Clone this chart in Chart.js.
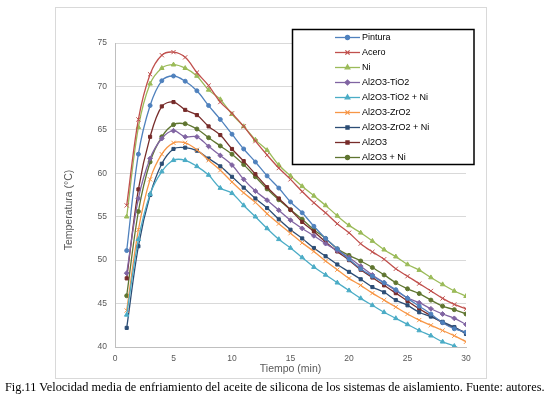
<!DOCTYPE html>
<html>
<head>
<meta charset="utf-8">
<script src="https://cdn.jsdelivr.net/npm/chart.js@4.4.0/dist/chart.umd.min.js"></script>
<style>
  html, body { margin: 0; padding: 0; background: #fff; }
  #wrap { position: relative; width: 550px; height: 399px; }
  #caption {
    position: absolute; left: 5px; top: 380px; white-space: nowrap;
    font-family: "Liberation Serif", serif; font-size: 12px; color: #000;
  }
</style>
</head>
<body>
<div id="wrap">
  <canvas id="tempChart" width="550" height="399"></canvas>
  <div id="caption">Fig.11 Velocidad media de enfriamiento del aceite de silicona de los sistemas de aislamiento. Fuente: autores.</div>
</div>
<script>
// Datos (tiempo en min, temperatura en °C)
const tiempo = [1,2,3,4,5,6,7,8,9,10,11,12,13,14,15,16,17,18,19,20,21,22,23,24,25,26,27,28,29,30];
const yTicks = [40, 45, 50, 55, 60, 65, 70, 75];

const pintura = [51.1,62.2,67.8,70.65,71.2,70.6,69.5,67.8,66.2,64.5,62.8,61.3,59.7,58.3,56.7,55.45,53.9,52.5,51.3,50.1,49.0,48.15,47.4,46.6,45.6,44.7,43.8,42.8,42.1,41.7];
const acero = [56.3,66.2,71.4,73.6,73.95,73.35,71.6,70.1,68.2,66.9,65.4,63.7,62.1,60.6,59.3,57.9,56.6,55.45,54.2,53.15,51.9,50.95,50.1,49.0,48.15,47.3,46.45,45.6,44.9,44.4];
const ni = [55.0,65.3,70.3,72.1,72.5,72.1,71.2,69.6,68.5,66.8,65.4,63.85,62.65,60.95,59.7,58.5,57.4,56.3,55.1,54.0,53.15,52.2,51.2,50.4,49.5,48.85,48.0,47.2,46.45,45.85];
const al2o3TiO2 = [48.5,57.1,61.7,64.0,64.9,64.2,64.2,63.1,62.05,60.95,59.3,57.95,56.9,55.75,54.6,53.65,52.8,51.9,51.1,50.3,49.3,48.3,47.4,46.5,45.65,45.1,44.4,43.8,43.3,42.6];
const al2o3TiO2Ni = [43.7,52.4,57.6,60.2,61.5,61.5,60.8,59.8,58.3,57.7,56.3,55.0,53.65,52.4,51.4,50.3,49.2,48.3,47.4,46.5,45.6,44.8,44.0,43.3,42.6,41.9,41.3,40.6,40.1,39.5];
const al2o3ZrO2 = [44.2,53.5,59.3,62.2,63.5,63.5,62.7,61.5,60.35,59.0,57.75,56.65,55.35,54.2,53.1,52.0,51.0,49.9,48.9,47.9,47.1,46.2,45.4,44.6,43.8,43.1,42.5,41.9,41.3,40.6];
const al2o3ZrO2Ni = [42.2,51.6,57.5,61.1,62.8,62.95,62.6,61.7,60.8,59.6,58.35,57.1,56.0,54.7,53.5,52.5,51.4,50.45,49.5,48.65,47.8,46.9,46.3,45.4,44.8,44.0,43.5,42.9,42.3,41.5];
const al2o3 = [47.9,58.15,64.2,67.7,68.2,67.3,66.7,65.4,64.4,62.8,61.4,59.9,58.4,57.1,55.8,54.4,53.3,52.1,51.0,50.0,48.9,48.0,47.1,46.2,45.3,44.4,43.6,42.8,42.2,41.65];
const al2o3Ni = [45.9,55.6,61.3,64.2,65.6,65.7,65.1,64.1,63.15,62.2,61.0,59.6,58.2,56.95,55.8,54.7,53.5,52.5,51.3,50.55,49.9,49.15,48.3,47.4,46.7,46.15,45.4,44.7,44.3,43.8];

const series = [
    { label: 'Pintura', data: pintura, color: '#4F81BD', style: 'circle', r: 2 },
    { label: 'Acero', data: acero, color: '#C0504D', style: 'crossRot', r: 3 },
    { label: 'Ni', data: ni, color: '#9BBB59', style: 'triangle', r: 2.6 },
    { label: 'Al2O3-TiO2', data: al2o3TiO2, color: '#8064A2', style: 'rectRot', r: 2.4 },
    { label: 'Al2O3-TiO2 + Ni', data: al2o3TiO2Ni, color: '#4BACC6', style: 'triangle', r: 2.6 },
    { label: 'Al2O3-ZrO2', data: al2o3ZrO2, color: '#F79646', style: 'crossRot', r: 3 },
    { label: 'Al2O3-ZrO2 + Ni', data: al2o3ZrO2Ni, color: '#2C4D75', style: 'rect', r: 2.2 },
    { label: 'Al2O3', data: al2o3, color: '#772C2A', style: 'rect', r: 2.2 },
    { label: 'Al2O3 + Ni', data: al2o3Ni, color: '#5F7530', style: 'circle', r: 2 }
];

// marco del grafico, titulo eje Y y leyenda con borde negro
const decorPlugin = {
    id: 'decor',
    beforeDraw(chart) {
        const ctx = chart.ctx;
        ctx.save();
        ctx.strokeStyle = '#D9D9D9';
        ctx.lineWidth = 1;
        ctx.strokeRect(55.5, 7.5, 431, 371);
        ctx.restore();
    },
    afterDraw(chart) {
        const ctx = chart.ctx;
        ctx.save();
        ctx.translate(69, 210);
        ctx.rotate(-Math.PI / 2);
        ctx.font = '10.5px "Liberation Sans", Arial, sans-serif';
        ctx.fillStyle = '#595959';
        ctx.textAlign = 'center';
        ctx.textBaseline = 'middle';
        ctx.fillText('Temperatura (°C)', 0, 0);
        ctx.restore();

        ctx.save();
        ctx.fillStyle = '#fff';
        ctx.fillRect(292, 29, 182, 136);
        ctx.strokeStyle = '#000';
        ctx.lineWidth = 1.5;
        ctx.strokeRect(292.5, 29.5, 181.5, 135);
        ctx.font = '9px "Liberation Sans", Arial, sans-serif';
        ctx.textBaseline = 'middle';
        chart.data.datasets.forEach((ds, i) => {
            const y = 37.5 + i * 15;
            ctx.strokeStyle = ds.borderColor;
            ctx.lineWidth = 1.3;
            ctx.beginPath();
            ctx.moveTo(335, y);
            ctx.lineTo(360, y);
            ctx.stroke();
            ctx.fillStyle = ds.borderColor;
            Chart.helpers.drawPoint(ctx, { pointStyle: ds.pointStyle, radius: ds.pointRadius, borderWidth: 1, rotation: 0 }, 347.5, y);
            ctx.fillStyle = '#000';
            ctx.fillText(ds.label, 362, y + 0.5);
        });
        ctx.restore();
    }
};

const ctx = document.getElementById('tempChart').getContext('2d');
new Chart(ctx, {
    type: 'line',
    data: {
        datasets: series.map(s => ({
            label: s.label,
            data: tiempo.map((t, i) => ({ x: t, y: s.data[i] })),
            borderColor: s.color,
            backgroundColor: s.color,
            borderWidth: 1.3,
            pointStyle: s.style,
            pointRadius: s.r,
            pointBorderWidth: 1,
            tension: 0.35
        }))
    },
    options: {
        responsive: false,
        animation: false,
        layout: { padding: { left: 57, top: 43, right: 84, bottom: 22 } },
        plugins: { legend: { display: false }, tooltip: { enabled: false } },
        scales: {
            x: {
                type: 'linear', min: 0, max: 30,
                afterFit: (s) => { s.height = 30; },
                grid: { display: false, drawTicks: false },
                border: { display: true, color: '#BFBFBF' },
                ticks: { stepSize: 5, color: '#595959', padding: 7, maxRotation: 0, font: { family: '"Liberation Sans", Arial, sans-serif', size: 8.5 } },
                title: { display: true, text: 'Tiempo (min)', color: '#595959', padding: { top: 0, bottom: 2 }, font: { family: '"Liberation Sans", Arial, sans-serif', size: 10.5 } }
            },
            y: {
                min: 40, max: 75,
                afterFit: (s) => { s.width = 58; },
                afterBuildTicks: (s) => { s.ticks = yTicks.map(v => ({ value: v })); },
                grid: { color: '#D9D9D9', drawTicks: false },
                border: { display: true, color: '#BFBFBF' },
                ticks: { color: '#595959', padding: 8, font: { family: '"Liberation Sans", Arial, sans-serif', size: 8.5 } }
            }
        }
    },
    plugins: [decorPlugin]
});

// ajustar el pie de figura al ancho de la imagen
const cap = document.getElementById('caption');
cap.style.fontSize = (12 * 540 / cap.getBoundingClientRect().width).toFixed(2) + 'px';
</script>
</body>
</html>
